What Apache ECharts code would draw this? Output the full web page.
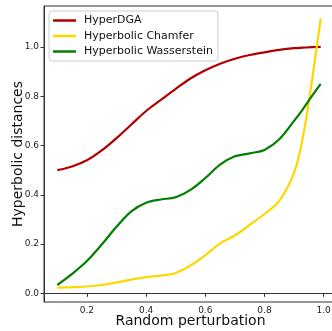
<!DOCTYPE html>
<html>
<head>
<meta charset="utf-8">
<script src="https://cdn.jsdelivr.net/npm/echarts@6/dist/echarts.min.js"></script>
<style>
html,body{margin:0;padding:0;background:#fff;}
#c{width:332px;height:331px;}
</style>
</head>
<body>
<div id="c"></div>
<script>
const xValues = [0.10,0.15,0.20,0.25,0.30,0.35,0.40,0.45,0.50,0.55,0.60,0.65,0.70,0.75,0.80,0.85,0.90,0.93,0.96,0.99];
const hyperDGA = [0.500,0.515,0.540,0.580,0.630,0.685,0.740,0.785,0.830,0.872,0.905,0.932,0.952,0.967,0.978,0.988,0.995,0.997,0.999,1.000];
const chamfer = [0.023,0.025,0.028,0.034,0.044,0.056,0.066,0.072,0.083,0.113,0.155,0.203,0.235,0.278,0.322,0.375,0.490,0.635,0.860,1.116];
const wasserstein = [0.034,0.079,0.131,0.198,0.270,0.333,0.368,0.381,0.390,0.420,0.468,0.522,0.556,0.568,0.582,0.625,0.700,0.748,0.800,0.850];
const xTicks = [0.2,0.4,0.6,0.8,1.0];
const yTicks = [0.0,0.2,0.4,0.6,0.8,1.0];
const seriesNames = ['HyperDGA','Hyperbolic Chamfer','Hyperbolic Wasserstein'];
const seriesColors = ['#b00000','#ffd700','#008000'];

const pairs = arr => xValues.map((x,i)=>[x,arr[i]]);
const font = 'DejaVu Sans';
const chart = echarts.init(document.getElementById('c'), null, {renderer:'canvas'});
chart.setOption({
  animation:false,
  backgroundColor:'#fff',
  grid:{left:44,top:6,bottom:29,right:-5,containLabel:false,outerBoundsMode:'none',show:true,borderColor:'#333',borderWidth:1,backgroundColor:'transparent'},
  legend:{
    left:49,top:11,orient:'vertical',
    data:seriesNames,
    icon:'rect',itemWidth:23,itemHeight:2.5,itemGap:2.5,
    padding:[3,5,3,4],
    backgroundColor:'rgba(255,255,255,0.85)',
    borderColor:'#cccccc',borderWidth:1,borderRadius:3,
    textStyle:{fontFamily:font,fontSize:11,color:'#111',lineHeight:13,padding:[0,0,0,3]}
  },
  xAxis:{
    type:'value',min:0.055,max:1.045,
    name:'Random perturbation',nameLocation:'middle',nameGap:12,nameMoveOverlap:false,
    nameTextStyle:{fontFamily:font,fontSize:14,color:'#111'},
    axisLine:{show:true,lineStyle:{color:'#333',width:1}},
    axisTick:{show:true,length:3.5,customValues:xTicks,lineStyle:{color:'#333'}},
    axisLabel:{customValues:xTicks,margin:4,fontFamily:font,fontSize:9,color:'#222',formatter:v=>v.toFixed(1)},
    splitLine:{show:false}
  },
  yAxis:{
    type:'value',min:-0.035,max:1.166,
    name:'Hyperbolic distances',nameLocation:'middle',nameGap:19,nameRotate:90,nameMoveOverlap:false,
    nameTextStyle:{fontFamily:font,fontSize:14,color:'#111'},
    axisLine:{show:true,lineStyle:{color:'#333',width:1}},
    axisTick:{show:true,length:3.5,customValues:yTicks,lineStyle:{color:'#333'}},
    axisLabel:{customValues:yTicks,margin:5,fontFamily:font,fontSize:9,color:'#222',formatter:v=>v.toFixed(1)},
    splitLine:{show:false}
  },
  series:[hyperDGA,chamfer,wasserstein].map((d,i)=>({
    name:seriesNames[i],type:'line',data:pairs(d),
    smooth:0.35,showSymbol:false,symbol:'none',
    lineStyle:{color:seriesColors[i],width:2.2},
    itemStyle:{color:seriesColors[i]},
    z:2+i
  }))
});
</script>
</body>
</html>
